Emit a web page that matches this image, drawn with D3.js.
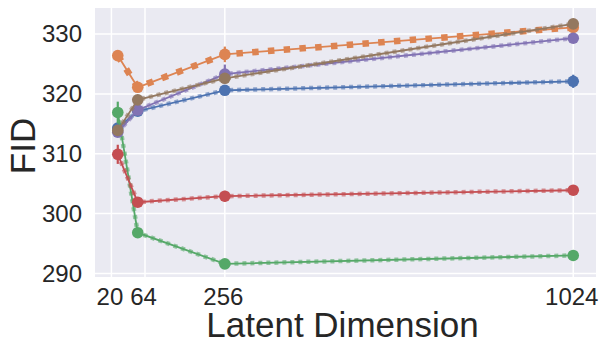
<!DOCTYPE html>
<html>
<head>
<meta charset="utf-8">
<script src="https://cdn.jsdelivr.net/npm/d3@7"></script>
<style>
  body { margin: 0; background: #fff; }
  text { font-family: "Liberation Sans", Arial, sans-serif; fill: #262626; }
</style>
</head>
<body>
<div id="chart"></div>
<script>
// latent dimensions (x values)
var dims = [20, 64, 256, 1024];
// tick positions on the axis and their labels (ticks are nudged apart in the original)
var tickPos = [6, 80, 256, 1024];
var tickLabels = ["20", "64", "256", "1024"];
var yTicks = [290, 300, 310, 320, 330];

// FID per series
var blueFid   = [314.3, 317.1, 320.6, 322.1];
var orangeFid = [326.4, 321.1, 326.6, 331.1];
var greenFid  = [316.9, 296.8, 291.6, 293.0];
var redFid    = [309.9, 301.9, 302.9, 303.9];
var purpleFid = [313.6, 317.3, 323.3, 329.3];
var brownFid  = [313.9, 319.0, 322.6, 331.7];

// error bar half widths
var blueErr   = [0.8, 0.5, 0.5, 1.1];
var orangeErr = [0.7, 0.4, 1.3, 0.5];
var greenErr  = [1.8, 0.4, 0.3, 0.3];
var redErr    = [1.6, 0.4, 0.9, 0.4];
var purpleErr = [0.6, 0.6, 1.6, 0.4];
var brownErr  = [0.4, 0.4, 0.5, 0.4];

var series = [
  {fid: blueFid,   err: blueErr,   color: "#4C72B0", big: false},
  {fid: orangeFid, err: orangeErr, color: "#DD8452", big: true},
  {fid: greenFid,  err: greenErr,  color: "#55A868", big: false},
  {fid: redFid,    err: redErr,    color: "#C44E52", big: false},
  {fid: purpleFid, err: purpleErr, color: "#8172B3", big: false},
  {fid: brownFid,  err: brownErr,  color: "#937860", big: false}
];

var W = 607, H = 355;
var margin = {top: 8, right: 11, bottom: 78, left: 95};
var width = W - margin.left - margin.right,
    height = H - margin.top - margin.bottom;

var svg = d3.select("#chart").append("svg")
  .attr("width", W).attr("height", H);

var g = svg.append("g")
  .attr("transform", "translate(" + margin.left + "," + margin.top + ")");

var x = d3.scaleLinear().domain([-30.2, 1074.2]).range([0, width]);
var y = d3.scaleLinear().domain([289.4, 334.35]).range([height, 0]);

// darkgrid background
g.append("rect").attr("width", width).attr("height", height).attr("fill", "#EAEAF2");

g.append("g").selectAll("line").data(yTicks).enter().append("line")
  .attr("x1", 0).attr("x2", width)
  .attr("y1", function(d) { return y(d); }).attr("y2", function(d) { return y(d); })
  .attr("stroke", "#fff").attr("stroke-width", 1.5);

g.append("g").selectAll("line").data(tickPos).enter().append("line")
  .attr("y1", 0).attr("y2", height)
  .attr("x1", function(d) { return x(d); }).attr("x2", function(d) { return x(d); })
  .attr("stroke", "#fff").attr("stroke-width", 1.5);

// axes (labels only, no spines)
var xAxis = g.append("g")
  .attr("transform", "translate(0," + height + ")")
  .call(d3.axisBottom(x).tickValues(tickPos)
    .tickFormat(function(d, i) { return tickLabels[i]; }).tickSize(0).tickPadding(11));
xAxis.select(".domain").remove();
xAxis.selectAll("text").style("font-size", "24px").attr("fill", "#262626").attr("dx", -2);

var yAxis = g.append("g")
  .call(d3.axisLeft(y).tickValues(yTicks).tickSize(0).tickPadding(13));
yAxis.select(".domain").remove();
yAxis.selectAll("text").style("font-size", "24px").attr("fill", "#262626");

// series
var line = d3.line()
  .x(function(d, i) { return x(dims[i]); })
  .y(function(d) { return y(d); });

series.forEach(function(s) {
  var sg = g.append("g");
  // small square markers along the line
  sg.append("path").attr("d", line(s.fid))
    .attr("fill", "none").attr("stroke", s.color)
    .attr("stroke-width", s.big ? 6.5 : 4.5)
    .attr("stroke-dasharray", s.big ? "6.5 9.3" : "4 4")
    .attr("stroke-opacity", s.big ? 1 : 0.6);
  sg.append("path").attr("d", line(s.fid))
    .attr("fill", "none").attr("stroke", s.color)
    .attr("stroke-width", 1.8);
  // error bars
  sg.selectAll(".eb").data(s.fid).enter().append("line")
    .attr("x1", function(d, i) { return x(dims[i]); })
    .attr("x2", function(d, i) { return x(dims[i]); })
    .attr("y1", function(d, i) { return y(d - s.err[i]); })
    .attr("y2", function(d, i) { return y(d + s.err[i]); })
    .attr("stroke", s.color).attr("stroke-width", 2.2);
  // main points
  sg.selectAll("circle").data(s.fid).enter().append("circle")
    .attr("cx", function(d, i) { return x(dims[i]); })
    .attr("cy", function(d) { return y(d); })
    .attr("r", 5.8)
    .attr("fill", s.color);
});

// axis titles
svg.append("text")
  .attr("x", margin.left + width / 2 - 3).attr("y", 337)
  .attr("text-anchor", "middle").style("font-size", "35px")
  .text("Latent Dimension");

svg.append("text")
  .attr("transform", "translate(35," + (margin.top + 138) + ")rotate(-90)")
  .attr("text-anchor", "middle").style("font-size", "35px")
  .text("FID");
</script>
</body>
</html>
